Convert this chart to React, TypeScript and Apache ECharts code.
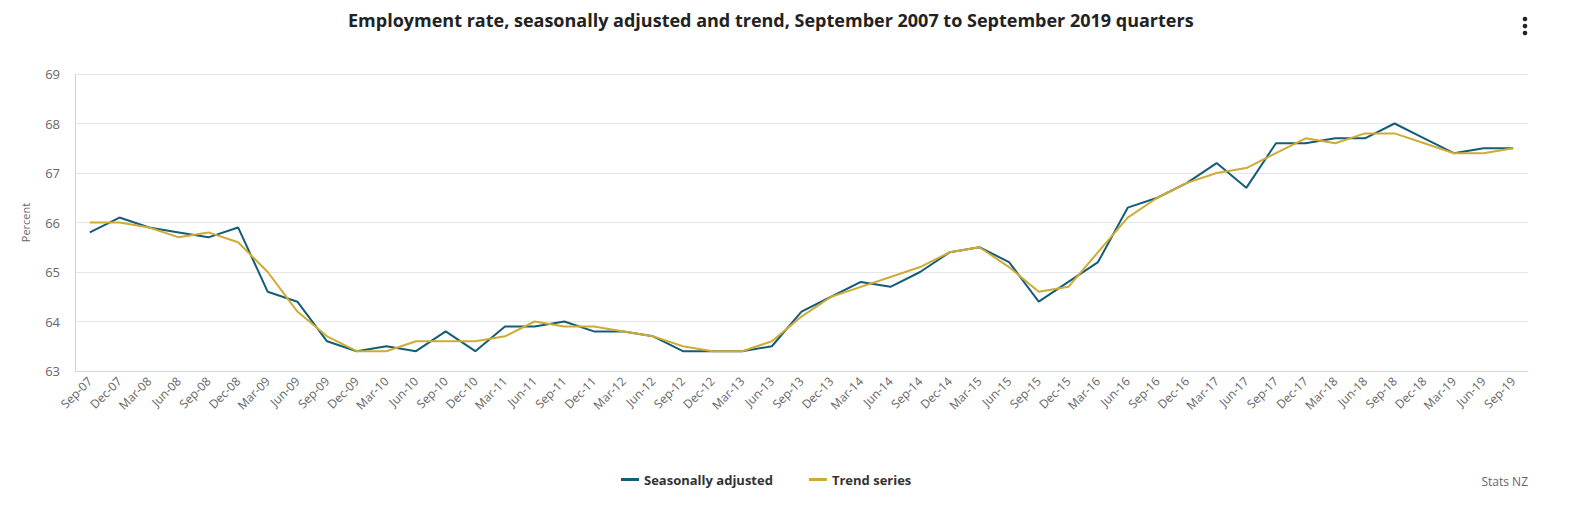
import React, { useEffect, useRef } from "react";
import * as echarts from "echarts";

const categories = [
  "Sep-07", "Dec-07", "Mar-08", "Jun-08", "Sep-08", "Dec-08", "Mar-09", "Jun-09", "Sep-09", "Dec-09",
  "Mar-10", "Jun-10", "Sep-10", "Dec-10", "Mar-11", "Jun-11", "Sep-11", "Dec-11", "Mar-12", "Jun-12",
  "Sep-12", "Dec-12", "Mar-13", "Jun-13", "Sep-13", "Dec-13", "Mar-14", "Jun-14", "Sep-14", "Dec-14",
  "Mar-15", "Jun-15", "Sep-15", "Dec-15", "Mar-16", "Jun-16", "Sep-16", "Dec-16", "Mar-17", "Jun-17",
  "Sep-17", "Dec-17", "Mar-18", "Jun-18", "Sep-18", "Dec-18", "Mar-19", "Jun-19", "Sep-19",
];

const seasonallyAdjusted = [
  65.8, 66.1, 65.9, 65.8, 65.7, 65.9, 64.6, 64.4, 63.6, 63.4,
  63.5, 63.4, 63.8, 63.4, 63.9, 63.9, 64.0, 63.8, 63.8, 63.7,
  63.4, 63.4, 63.4, 63.5, 64.2, 64.5, 64.8, 64.7, 65.0, 65.4,
  65.5, 65.2, 64.4, 64.8, 65.2, 66.3, 66.5, 66.8, 67.2, 66.7,
  67.6, 67.6, 67.7, 67.7, 68.0, 67.7, 67.4, 67.5, 67.5,
];

const trendSeries = [
  66.0, 66.0, 65.9, 65.7, 65.8, 65.6, 65.0, 64.2, 63.7, 63.4,
  63.4, 63.6, 63.6, 63.6, 63.7, 64.0, 63.9, 63.9, 63.8, 63.7,
  63.5, 63.4, 63.4, 63.6, 64.1, 64.5, 64.7, 64.9, 65.1, 65.4,
  65.5, 65.1, 64.6, 64.7, 65.4, 66.1, 66.5, 66.8, 67.0, 67.1,
  67.4, 67.7, 67.6, 67.8, 67.8, 67.6, 67.4, 67.4, 67.5,
];

const yTicks = [63, 64, 65, 66, 67, 68, 69];

const FONT = "'Open Sans', Lato, sans-serif";

export default function App() {
  const ref = useRef<HTMLDivElement>(null);

  useEffect(() => {
    document.body.style.margin = "0";
    if (!ref.current) return;
    const chart = echarts.init(ref.current, undefined, { renderer: "svg" });
    chart.setOption({
      animation: false,
      backgroundColor: "#ffffff",
      textStyle: { fontFamily: FONT },
      title: {
        text: "Employment rate, seasonally adjusted and trend, September 2007 to September 2019 quarters",
        left: 343,
        top: 6,
        textStyle: { fontFamily: FONT, fontSize: 18, fontWeight: "bold", color: "#222222" },
      },
      legend: {
        bottom: 26,
        left: 616,
        itemWidth: 18,
        itemHeight: 3,
        itemGap: 36,
        icon: "rect",
        textStyle: { fontFamily: FONT, fontSize: 13, fontWeight: "bold", color: "#333333" },
        data: ["Seasonally adjusted", "Trend series"],
      },
      grid: { left: 75, right: 63, top: 74, bottom: 146, containLabel: false },
      xAxis: {
        type: "category",
        data: categories,
        boundaryGap: true,
        axisLine: { lineStyle: { color: "#ccd6eb", width: 1 } },
        axisTick: { alignWithLabel: true, length: 8, lineStyle: { color: "#ccd6eb" } },
        axisLabel: {
          interval: 0,
          rotate: 45,
          fontSize: 12,
          color: "#666666",
          fontFamily: FONT,
          margin: 8,
        },
      },
      yAxis: {
        type: "value",
        min: yTicks[0],
        max: yTicks[yTicks.length - 1],
        interval: 1,
        name: "Percent",
        nameLocation: "middle",
        nameGap: 44,
        nameRotate: 90,
        nameTextStyle: { fontSize: 11, color: "#666666", fontFamily: FONT },
        axisLine: { show: true, lineStyle: { color: "#ccd6eb" } },
        axisTick: { show: false },
        axisLabel: { fontSize: 13, color: "#666666", margin: 15, fontFamily: FONT },
        splitLine: { lineStyle: { color: "#e6e6e6" } },
      },
      series: [
        {
          name: "Seasonally adjusted",
          type: "line",
          data: seasonallyAdjusted,
          showSymbol: false,
          symbol: "none",
          lineStyle: { width: 2, color: "#135d78" },
          itemStyle: { color: "#135d78" },
        },
        {
          name: "Trend series",
          type: "line",
          data: trendSeries,
          showSymbol: false,
          symbol: "none",
          lineStyle: { width: 2, color: "#cfab35" },
          itemStyle: { color: "#cfab35" },
        },
      ],
      graphic: [
        {
          type: "text",
          right: 63,
          top: 475,
          style: { text: "Stats NZ", fontSize: 12, fill: "#666666", fontFamily: FONT },
        },
        { type: "circle", shape: { cx: 1525, cy: 19, r: 2.3 }, style: { fill: "#222222" } },
        { type: "circle", shape: { cx: 1525, cy: 26, r: 2.3 }, style: { fill: "#222222" } },
        { type: "circle", shape: { cx: 1525, cy: 33, r: 2.3 }, style: { fill: "#222222" } },
      ],
    });
    return () => chart.dispose();
  }, []);

  return <div ref={ref} style={{ width: 1591, height: 517 }} />;
}
